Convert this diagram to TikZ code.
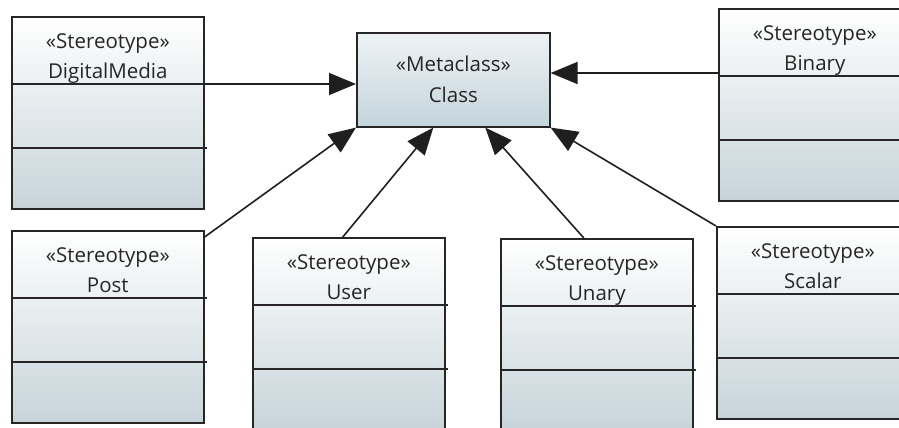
\documentclass[tikz,border=0pt]{standalone}
\usepackage{fontspec}
\setmainfont{Open Sans}
\usetikzlibrary{arrows.meta}
\definecolor{inkline}{HTML}{262626}
\definecolor{inktext}{HTML}{262626}
\definecolor{stbot}{HTML}{C6D4D9}
\definecolor{mctop}{HTML}{EEF3F5}
\definecolor{mcbot}{HTML}{C3D4DC}
\tikzset{
  stereo/.style={draw=inkline, line width=1.6pt, top color=white, bottom color=stbot,
    minimum width=192pt, minimum height=192pt, inner sep=0pt, anchor=north west},
  metabox/.style={draw=inkline, line width=1.6pt, top color=mctop, bottom color=mcbot,
    minimum width=193pt, minimum height=94pt, inner sep=0pt, anchor=north west,
    align=center, text=inktext, font=\fontsize{20.5}{31}\selectfont},
  hdr/.style={anchor=north, inner sep=0pt, yshift=-17pt, align=center, text=inktext,
    font=\fontsize{20.5}{30}\selectfont},
  divider/.style={draw=inkline, line width=1.6pt},
  gen/.style={draw=black!88, line width=1.6pt, -{Triangle[length=27pt,width=22pt]}}
}
\newcommand{\compartments}[1]{%
  \draw[divider] ([yshift=-68pt]#1.north west) -- ([xshift=2pt,yshift=-68pt]#1.north east);
  \draw[divider] ([yshift=-132pt]#1.north west) -- ([xshift=2pt,yshift=-132pt]#1.north east);}
\begin{document}
\begin{tikzpicture}[x=1pt, y=-1pt]
  \useasboundingbox (0,0) rectangle (899,428);
  \clip (0,0) rectangle (899,428);
  \fill[white] (0,0) rectangle (899,428);

  % metaclass in the middle
  \node[metabox] (cls) at (356,32) {«Metaclass»\\Class};

  % stereotypes
  \node[stereo, label={[hdr]north:«Stereotype»\\DigitalMedia}] (dm) at (11,16) {};
  \node[stereo, label={[hdr]north:«Stereotype»\\Binary}] (bin) at (718,8) {};
  \node[stereo, label={[hdr]north:«Stereotype»\\Post}] (post) at (11,230) {};
  \node[stereo, label={[hdr]north:«Stereotype»\\User}] (user) at (252,237) {};
  \node[stereo, label={[hdr]north:«Stereotype»\\Unary}] (unary) at (500,238) {};
  \node[stereo, label={[hdr]north:«Stereotype»\\Scalar}] (scalar) at (716,226) {};

  \compartments{dm}
  \compartments{bin}
  \compartments{post}
  \compartments{user}
  \compartments{unary}
  \compartments{scalar}

  % extension arrows
  \coordinate (dmA) at ([yshift=-68pt]dm.north east);
  \draw[gen] (dmA) -- (dmA -| cls.west);
  \coordinate (binA) at ([yshift=-65pt]bin.north west);
  \draw[gen] (binA) -- (binA -| cls.east);
  \draw[gen] ([yshift=-7pt]post.north east) -- (cls.south west);
  \draw[gen] ([xshift=-6pt]user.north) -- ([xshift=-20pt]cls.south);
  \draw[gen] ([xshift=-13pt]unary.north) -- ([xshift=32pt]cls.south);
  \draw[gen] (scalar.north west) -- (cls.south east);
\end{tikzpicture}
\end{document}
